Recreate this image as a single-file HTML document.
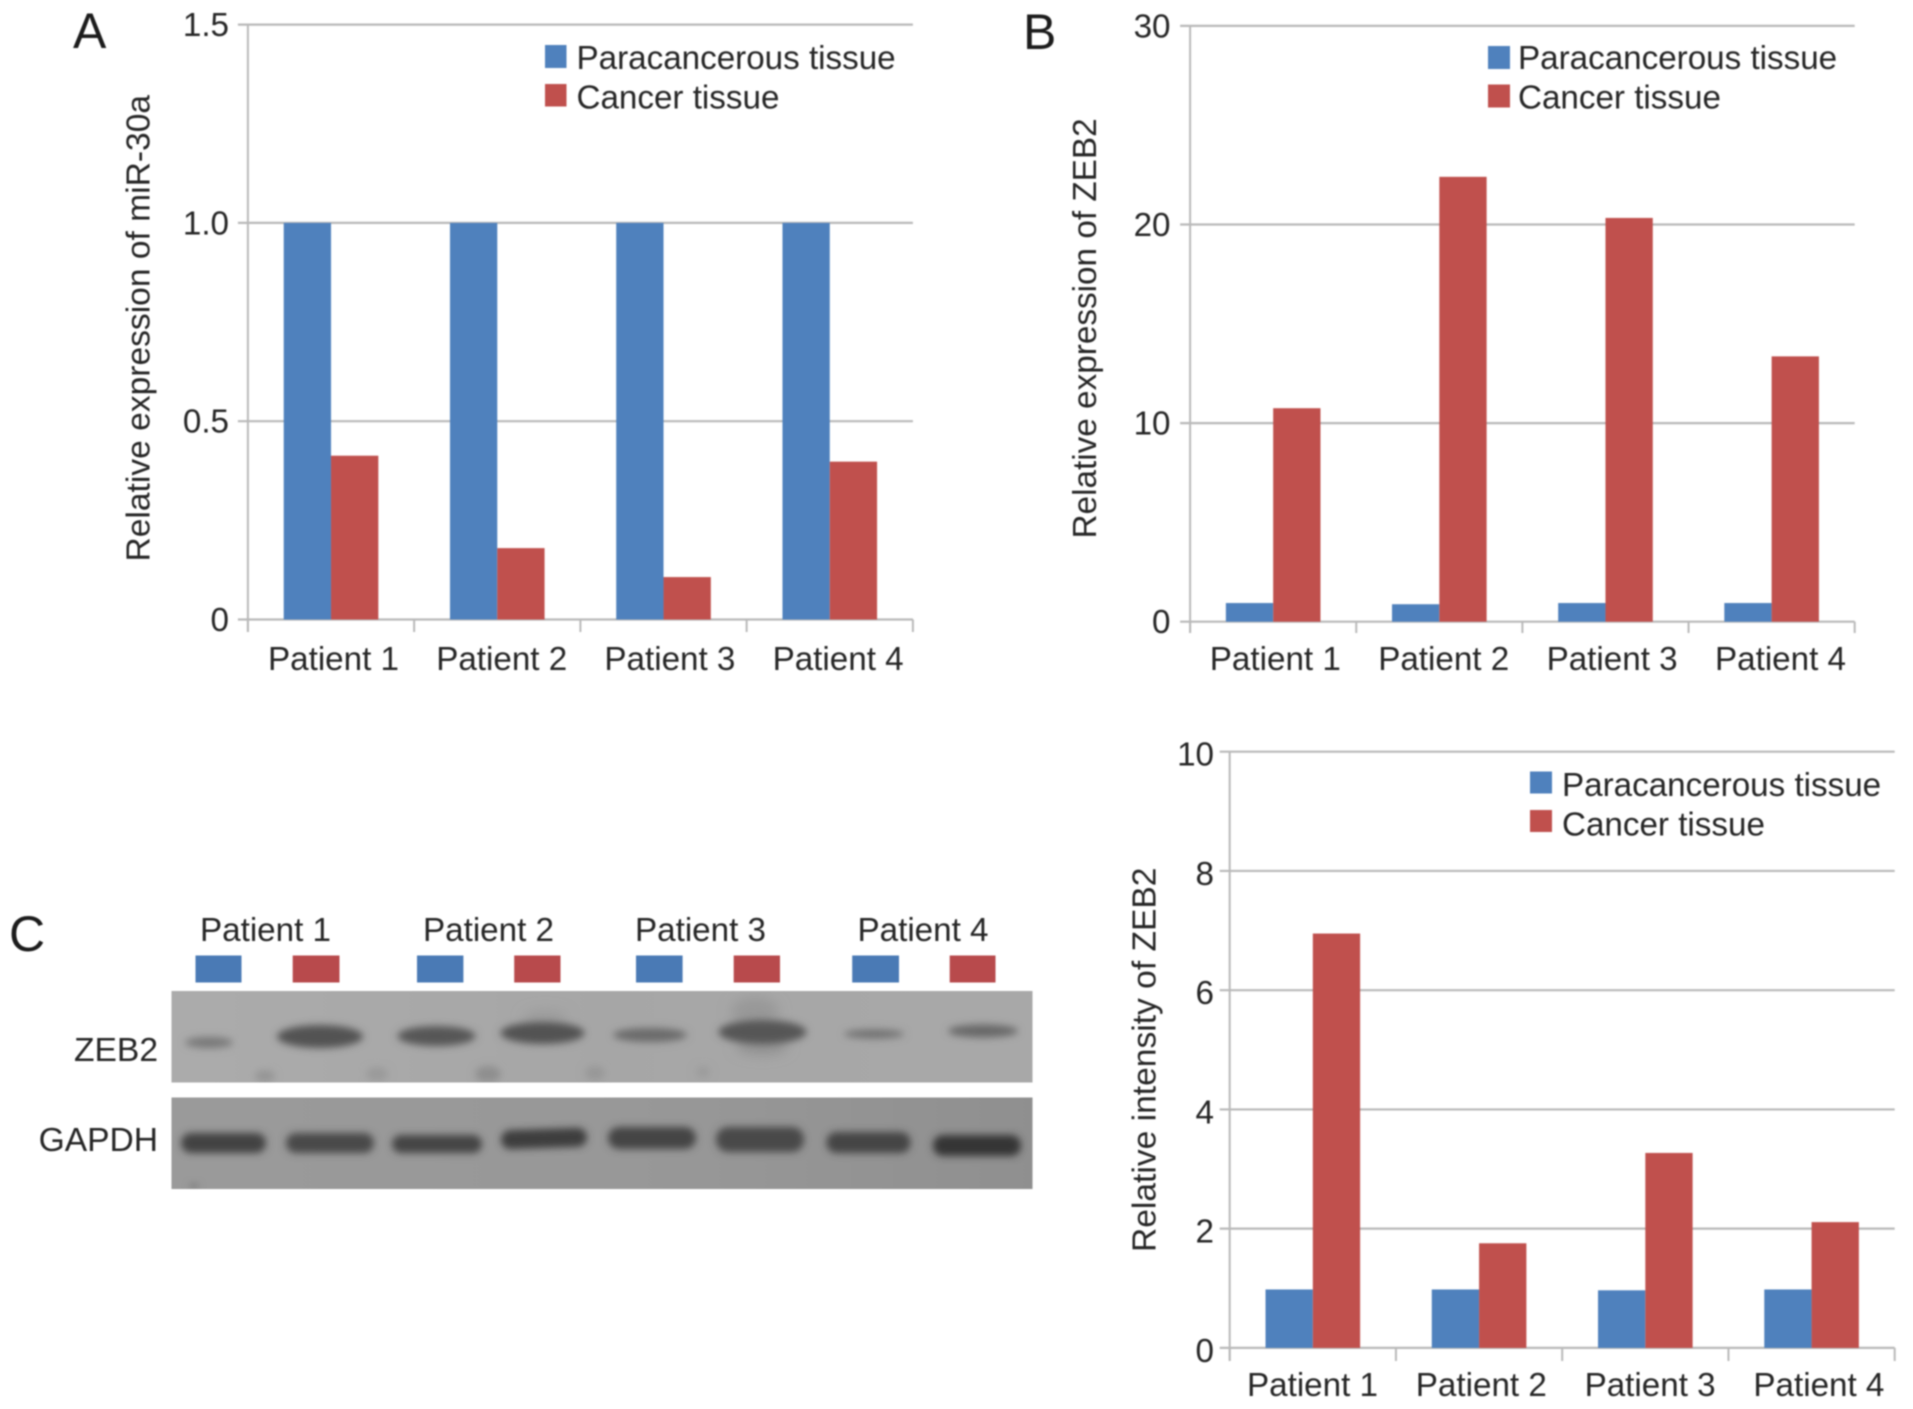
<!DOCTYPE html>
<html lang="en">
<head>
<meta charset="utf-8">
<title>miR-30a and ZEB2 expression in patient tissue</title>
<style>
  html, body { margin: 0; padding: 0; background: #fff; }
  body { width: 1913px; height: 1409px; overflow: hidden; }
  svg#figure { display: block; filter: blur(0.7px); }
  svg text { font-family: "Liberation Sans", sans-serif; fill: #262626; font-size: 33.2px; }
  svg text.axis-title { font-size: 33.6px; }
  svg text.axis-title-short { font-size: 33.3px; }
  .panel-letter { font-size: 50px; fill: #1c1c1c; }
</style>
</head>
<body>
<svg id="figure" xmlns="http://www.w3.org/2000/svg" width="1913" height="1409" viewBox="0 0 1913 1409">
  <defs>
    <filter id="blur-haze" x="-60%" y="-100%" width="220%" height="300%"><feGaussianBlur stdDeviation="6"></feGaussianBlur></filter>
    <filter id="blur-soft" x="-30%" y="-100%" width="160%" height="300%"><feGaussianBlur stdDeviation="3.8"></feGaussianBlur></filter>
    <linearGradient id="zeb2-membrane-fill" x1="0" x2="1" y1="0" y2="0">
      <stop offset="0" stop-color="#ababab"></stop>
      <stop offset="0.5" stop-color="#a6a6a6"></stop>
      <stop offset="1" stop-color="#a8a8a8"></stop>
    </linearGradient>
    <linearGradient id="gapdh-membrane-fill" x1="0" x2="1" y1="0" y2="0">
      <stop offset="0" stop-color="#9a9a9a"></stop>
      <stop offset="0.6" stop-color="#979797"></stop>
      <stop offset="1" stop-color="#8f8f8f"></stop>
    </linearGradient>
    <clipPath id="clip-blot-zeb2"><rect x="171.5" y="991" width="861" height="91.5"></rect></clipPath>
    <clipPath id="clip-blot-gapdh"><rect x="171.5" y="1097.5" width="861" height="91.5"></rect></clipPath>
  </defs>

  <text class="panel-letter" x="73" y="48">A</text>
  <text class="panel-letter" x="1023" y="49">B</text>
  <text class="panel-letter" x="9" y="951">C</text>

  <g id="chart-a"></g>
  <g id="chart-b"></g>
  <g id="chart-d"></g>

  <text class="axis-title" transform="translate(149.5 561.5) rotate(-90)">Relative expression of miR-30a</text>
  <text class="axis-title-short" transform="translate(1096 538.5) rotate(-90)">Relative expression of ZEB2</text>
  <text class="axis-title" transform="translate(1155.5 1252) rotate(-90)">Relative intensity of ZEB2</text>

  <g>
    <rect x="545" y="45" width="21.5" height="23" fill="#4f81bd"></rect>
    <text x="576.5" y="69">Paracancerous tissue</text>
    <rect x="545" y="84" width="21.5" height="22.5" fill="#c0504d"></rect>
    <text x="576.5" y="108.5">Cancer tissue</text>
  </g>
  <g>
    <rect x="1488" y="46" width="22" height="23" fill="#4f81bd"></rect>
    <text x="1518" y="69">Paracancerous tissue</text>
    <rect x="1488" y="84.5" width="22" height="23" fill="#c0504d"></rect>
    <text x="1518" y="108.5">Cancer tissue</text>
  </g>
  <g>
    <rect x="1530" y="771.5" width="22" height="22" fill="#4f81bd"></rect>
    <text x="1562" y="796">Paracancerous tissue</text>
    <rect x="1530" y="810" width="22" height="22" fill="#c0504d"></rect>
    <text x="1562" y="835.5">Cancer tissue</text>
  </g>

  <g>
    <g>
      <text x="265.5" y="941" text-anchor="middle">Patient 1</text>
      <text x="488.5" y="941" text-anchor="middle">Patient 2</text>
      <text x="700.5" y="941" text-anchor="middle">Patient 3</text>
      <text x="923" y="941" text-anchor="middle">Patient 4</text>
    </g>
    <g>
      <rect x="195.5" y="955.5" width="46" height="27" fill="#4a7ab5"></rect>
      <rect x="292.7" y="955.5" width="46.8" height="27" fill="#b84a4c"></rect>
      <rect x="417" y="955.5" width="46.4" height="27" fill="#4a7ab5"></rect>
      <rect x="514.2" y="955.5" width="46.3" height="27" fill="#b84a4c"></rect>
      <rect x="636" y="955.5" width="46.6" height="27" fill="#4a7ab5"></rect>
      <rect x="733.7" y="955.5" width="46.3" height="27" fill="#b84a4c"></rect>
      <rect x="852.2" y="955.5" width="46.8" height="27" fill="#4a7ab5"></rect>
      <rect x="949.7" y="955.5" width="45.8" height="27" fill="#b84a4c"></rect>
    </g>
    <text x="158" y="1061" text-anchor="end" class="axis-title">ZEB2</text>
    <text x="158" y="1151" text-anchor="end" class="axis-title">GAPDH</text>

    <g clip-path="url(#clip-blot-zeb2)">
      <rect x="171.5" y="991" width="861" height="91.5" fill="url(#zeb2-membrane-fill)"></rect>
      <g filter="url(#blur-haze)">
        <ellipse cx="755" cy="1012" rx="24" ry="15" fill="#989898"></ellipse>
        <ellipse cx="762" cy="1046" rx="26" ry="9" fill="#929292"></ellipse>
        <ellipse cx="545" cy="1018" rx="22" ry="8" fill="#9b9b9b"></ellipse>
      </g>
      <g filter="url(#blur-soft)">
        <ellipse cx="209" cy="1042.5" rx="24" ry="5.5" fill="#787878"></ellipse>
        <ellipse cx="320" cy="1036.5" rx="43" ry="11.5" fill="#525252"></ellipse>
        <ellipse cx="436.5" cy="1036" rx="39" ry="10" fill="#565656"></ellipse>
        <ellipse cx="542.5" cy="1033" rx="42" ry="11" fill="#525252"></ellipse>
        <ellipse cx="650" cy="1035" rx="37" ry="7" fill="#6a6a6a"></ellipse>
        <ellipse cx="762.5" cy="1032" rx="44" ry="12" fill="#565656"></ellipse>
        <ellipse cx="874" cy="1034" rx="30" ry="4.5" fill="#707070"></ellipse>
        <ellipse cx="983" cy="1031" rx="35" ry="6.5" fill="#686868"></ellipse>
        <ellipse cx="265" cy="1076" rx="10" ry="6" fill="#949494"></ellipse>
        <ellipse cx="377" cy="1074" rx="11" ry="7" fill="#9a9a9a"></ellipse>
        <ellipse cx="488" cy="1074" rx="13" ry="8" fill="#8e8e8e"></ellipse>
        <ellipse cx="595" cy="1073" rx="10" ry="7" fill="#979797"></ellipse>
        <ellipse cx="703" cy="1072" rx="7" ry="6" fill="#9b9b9b"></ellipse>
      </g>
    </g>

    <g clip-path="url(#clip-blot-gapdh)">
      <rect x="171.5" y="1097.5" width="861" height="91.5" fill="url(#gapdh-membrane-fill)"></rect>
      <g filter="url(#blur-soft)">
        <rect x="181" y="1133" width="85" height="20" rx="10" fill="#434343"></rect>
        <rect x="286" y="1133" width="88" height="20" rx="10" fill="#4a4a4a"></rect>
        <rect x="392" y="1135" width="90" height="18" rx="9" fill="#454545"></rect>
        <rect x="501" y="1129" width="86" height="19" rx="9.5" fill="#3e3e3e" transform="rotate(-2 544 1139)"></rect>
        <rect x="608" y="1127" width="88" height="22" rx="11" fill="#454545"></rect>
        <rect x="716" y="1127" width="88" height="25" rx="12" fill="#4a4a4a"></rect>
        <rect x="826.5" y="1132" width="84" height="21" rx="10" fill="#454545"></rect>
        <rect x="933" y="1135" width="88" height="21" rx="10" fill="#363636"></rect>
        <ellipse cx="194" cy="1186" rx="5" ry="2" fill="#6f6f6f"></ellipse>
      </g>
    </g>
  </g>
</svg>

<script>
const categories = ["Patient 1", "Patient 2", "Patient 3", "Patient 4"];

const mir30aParacancerous = [1, 1, 1, 1];
const mir30aCancer = [0.413, 0.18, 0.107, 0.398];
const mir30aTicks = [0, 0.5, 1, 1.5];
const mir30aTickLabels = ["0", "0.5", "1.0", "1.5"];

const zeb2ExpressionParacancerous = [0.94, 0.88, 0.94, 0.94];
const zeb2ExpressionCancer = [10.75, 22.4, 20.33, 13.36];
const zeb2ExpressionTicks = [0, 10, 20, 30];
const zeb2ExpressionTickLabels = ["0", "10", "20", "30"];

const zeb2IntensityParacancerous = [0.98, 0.98, 0.966, 0.98];
const zeb2IntensityCancer = [6.95, 1.755, 3.27, 2.11];
const zeb2IntensityTicks = [0, 2, 4, 6, 8, 10];
const zeb2IntensityTickLabels = ["0", "2", "4", "6", "8", "10"];

const SVG_NS = "http://www.w3.org/2000/svg";

function make(tag, parent, props) {
  const el = document.createElementNS(SVG_NS, tag);
  for (const key in props) el.setAttribute(key, props[key]);
  parent.appendChild(el);
  return el;
}

function drawChart(rootId, frame, paracancerous, cancer, ticks, tickLabels) {
  const root = document.getElementById(rootId);
  const maxValue = ticks[ticks.length - 1];
  const yScale = v => frame.bottom - (v / maxValue) * (frame.bottom - frame.top);
  const band = (frame.right - frame.left) / categories.length;
  const xCenter = i => frame.left + band * (i + 0.5);
  const axisColor = "#b9b9b9";

  ticks.forEach((t, i) => {
    const grid = make("line", root, {
      x1: frame.left - 10, x2: frame.right, y1: yScale(t), y2: yScale(t),
      stroke: axisColor, "stroke-width": 2.2
    });
    
    

    const label = make("text", root, {
      x: frame.labelRight, y: yScale(t) + frame.labelDy, "text-anchor": "end"
    });
    label.textContent = tickLabels[i];
    
    
  });

  const yAxis = make("line", root, {
    x1: frame.left, x2: frame.left, y1: frame.top, y2: frame.tickBottom,
    stroke: axisColor, "stroke-width": 2
  });
  
  

  categories.forEach((name, i) => {
    const blue = make("rect", root, {
      x: xCenter(i) - frame.barWidth, y: yScale(paracancerous[i]),
      width: frame.barWidth, height: frame.bottom - yScale(paracancerous[i]),
      fill: "#4f81bd"
    });
    
    

    const red = make("rect", root, {
      x: xCenter(i), y: yScale(cancer[i]),
      width: frame.barWidth, height: frame.bottom - yScale(cancer[i]),
      fill: "#c0504d"
    });
    
    

    const label = make("text", root, {
      x: frame.catStart + frame.catStep * i, y: frame.catBaseline, "text-anchor": "middle"
    });
    label.textContent = name;
    
    
  });

  for (let i = 0; i <= categories.length; i++) {
    const tick = make("line", root, {
      x1: frame.left + band * i, x2: frame.left + band * i,
      y1: frame.bottom, y2: frame.tickBottom,
      stroke: axisColor, "stroke-width": 2
    });
    
    
  }
}

drawChart("chart-a",
  { left: 247.9, right: 912.9, top: 24.6, bottom: 619.5, tickBottom: 632, barWidth: 47.3,
    labelRight: 229, labelDy: 11.5, catStart: 333.5, catStep: 168.2, catBaseline: 670 },
  mir30aParacancerous, mir30aCancer, mir30aTicks, mir30aTickLabels);

drawChart("chart-b",
  { left: 1190.1, right: 1854.7, top: 25.9, bottom: 621.7, tickBottom: 633, barWidth: 47.3,
    labelRight: 1170.5, labelDy: 11.5, catStart: 1275.3, catStep: 168.4, catBaseline: 670 },
  zeb2ExpressionParacancerous, zeb2ExpressionCancer, zeb2ExpressionTicks, zeb2ExpressionTickLabels);

drawChart("chart-d",
  { left: 1229.7, right: 1894.7, top: 751.7, bottom: 1347.9, tickBottom: 1361, barWidth: 47.3,
    labelRight: 1214, labelDy: 14, catStart: 1312.5, catStep: 168.8, catBaseline: 1396 },
  zeb2IntensityParacancerous, zeb2IntensityCancer, zeb2IntensityTicks, zeb2IntensityTickLabels);
</script>
</body>
</html>
